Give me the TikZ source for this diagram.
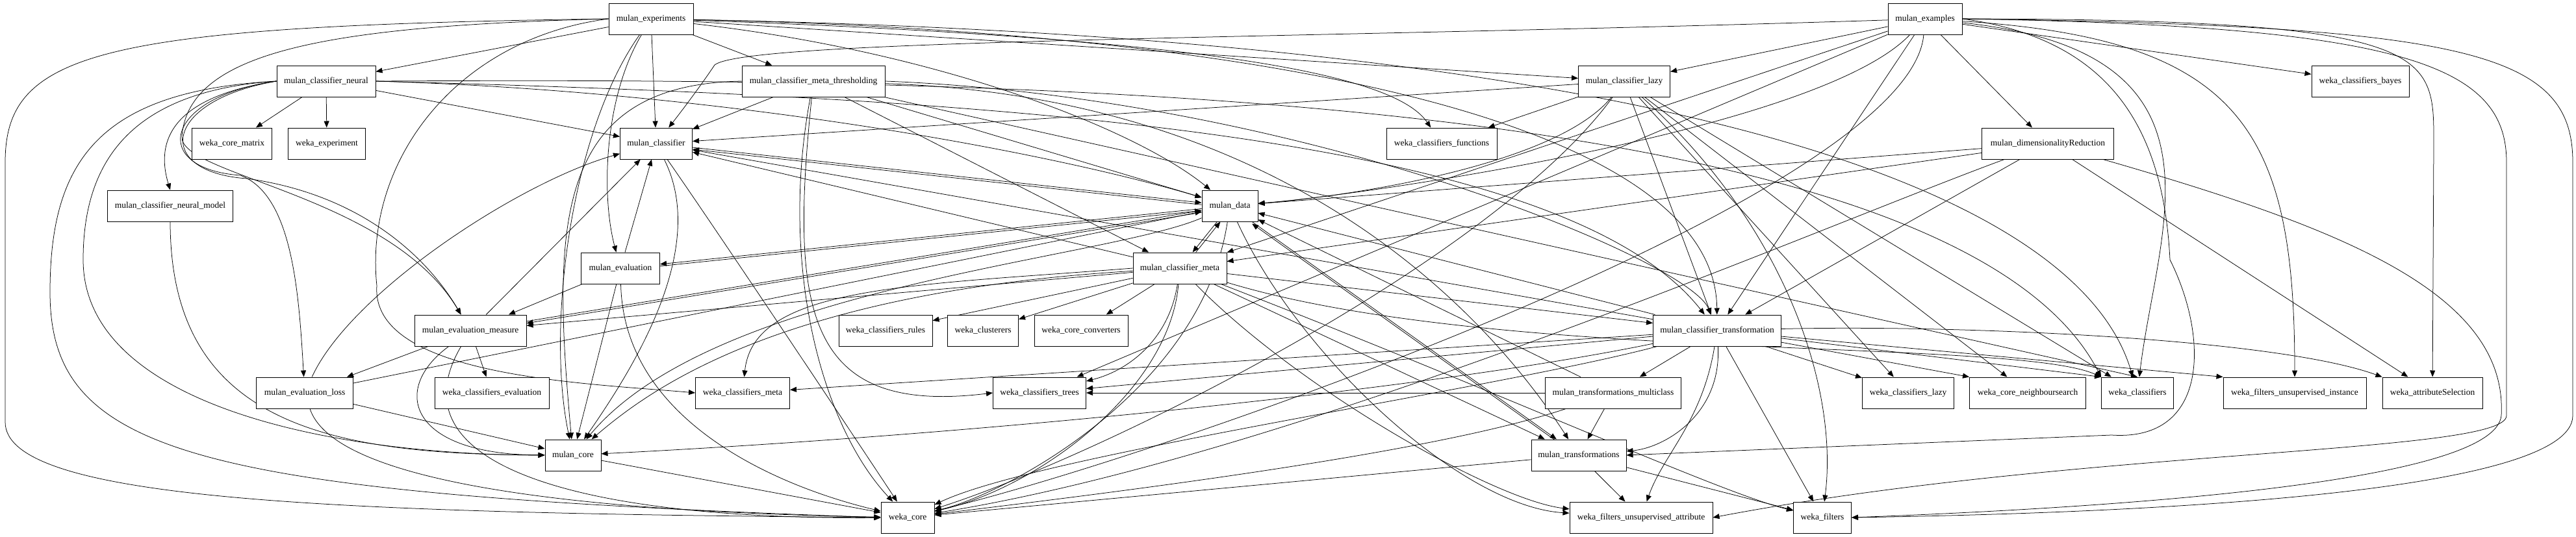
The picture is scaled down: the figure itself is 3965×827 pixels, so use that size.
\documentclass[tikz,border=0pt]{standalone}
\usepackage{fontspec}
\setmainfont{Liberation Serif}
\usetikzlibrary{arrows.meta,backgrounds}

\tikzset{
  pkg/.style={draw, line width=1pt, fill=white, minimum height=48pt, inner sep=0pt, font=\fontsize{13.5}{15}\selectfont},
  dep/.style={-{Triangle[length=10pt,width=8pt]}, line width=0.75pt},
  twin/.style={transform canvas={yshift=-3pt}},
}

\begin{document}
\begin{tikzpicture}[x=1pt,y=-1pt]
\useasboundingbox (0,0) rectangle (3965,827);

% top row
\node[pkg, minimum width=130pt] (exper) at (1002,29) {mulan\_experiments};
\node[pkg, minimum width=114pt] (exampl) at (2963,29) {mulan\_examples};

% row 2
\node[pkg, minimum width=152pt] (neural) at (502,125) {mulan\_classifier\_neural};
\node[pkg, minimum width=220pt] (thresh) at (1252,125) {mulan\_classifier\_meta\_thresholding};
\node[pkg, minimum width=141pt] (lazy) at (2500,125) {mulan\_classifier\_lazy};
\node[pkg, minimum width=150pt] (bayes) at (3633,125) {weka\_classifiers\_bayes};

% row 3
\node[pkg, minimum width=123pt] (matrix) at (357,221) {weka\_core\_matrix};
\node[pkg, minimum width=119pt] (wexp) at (503,221) {weka\_experiment};
\node[pkg, minimum width=111pt] (classif) at (1010,221) {mulan\_classifier};
\node[pkg, minimum width=170pt] (functions) at (2219,221) {weka\_classifiers\_functions};
\node[pkg, minimum width=203pt] (dimred) at (3152,221) {mulan\_dimensionalityReduction};

% row 4
\node[pkg, minimum width=193pt] (neuralmodel) at (262,317) {mulan\_classifier\_neural\_model};
\node[pkg, minimum width=86pt] (data) at (1893,317) {mulan\_data};

% row 5
\node[pkg, minimum width=121pt] (evaluation) at (955,413) {mulan\_evaluation};
\node[pkg, minimum width=144pt] (meta) at (1816,413) {mulan\_classifier\_meta};

% row 6
\node[pkg, minimum width=172pt] (measure) at (724,509) {mulan\_evaluation\_measure};
\node[pkg, minimum width=144pt] (rules) at (1363,509) {weka\_classifiers\_rules};
\node[pkg, minimum width=109pt] (clusterers) at (1513,509) {weka\_clusterers};
\node[pkg, minimum width=144pt] (converters) at (1664,509) {weka\_core\_converters};
\node[pkg, minimum width=197pt] (transformation) at (2643,509) {mulan\_classifier\_transformation};

% row 7
\node[pkg, minimum width=149pt] (loss) at (469,605) {mulan\_evaluation\_loss};
\node[pkg, minimum width=176pt] (wevaluation) at (757,605) {weka\_classifiers\_evaluation};
\node[pkg, minimum width=145pt] (wmeta) at (1143,605) {weka\_classifiers\_meta};
\node[pkg, minimum width=143pt] (trees) at (1600,605) {weka\_classifiers\_trees};
\node[pkg, minimum width=209pt] (multiclass) at (2483,605) {mulan\_transformations\_multiclass};
\node[pkg, minimum width=141pt] (wlazy) at (2937,605) {weka\_classifiers\_lazy};
\node[pkg, minimum width=179pt] (neighbour) at (3121,605) {weka\_core\_neighboursearch};
\node[pkg, minimum width=111pt] (wclassifiers) at (3290,605) {weka\_classifiers};
\node[pkg, minimum width=220pt] (uinstance) at (3532,605) {weka\_filters\_unsupervised\_instance};
\node[pkg, minimum width=154pt] (attrsel) at (3744,605) {weka\_attributeSelection};

% row 8
\node[pkg, minimum width=86pt] (core) at (882,701) {mulan\_core};
\node[pkg, minimum width=146pt] (transformations) at (2430,701) {mulan\_transformations};

% bottom row
\node[pkg, minimum width=82pt] (wcore) at (1397,797) {weka\_core};
\node[pkg, minimum width=220pt] (uattribute) at (2526,797) {weka\_filters\_unsupervised\_attribute};
\node[pkg, minimum width=89pt] (filters) at (2805,797) {weka\_filters};

\begin{scope}[on background layer]
% mulan_experiments
\draw[dep] (exper) -- (neural);
\draw[dep] (exper) -- (thresh);
\draw[dep] (exper) -- (classif);
\draw[dep] (exper) .. controls (930,150) and (925,300) .. (evaluation);
\draw[dep] (exper) .. controls (1450,80) and (1750,200) .. (data);
\draw[dep] (exper) -- (lazy);
\draw[dep] (exper) .. controls (1900,60) and (2150,120) .. (functions);
\draw[dep] (exper.west) .. controls (500,40) and (290,80) .. (280,210) .. controls (275,270) and (600,300) .. (measure);
\draw[dep] (exper.west) .. controls (700,60) and (560,250) .. (580,440) .. controls (570,580) and (900,590) .. (wmeta.west);
\draw[dep] (exper) .. controls (880,200) and (840,500) .. (core);
\draw[dep] (exper.west) .. controls (150,40) and (8,80) .. (8,250) -- (8,650) .. controls (8,770) and (500,790) .. (wcore.west);
\draw[dep] (exper) .. controls (2000,50) and (2640,200) .. (transformation);
\draw[dep] (exper) .. controls (2600,60) and (3200,300) .. (wclassifiers);

% mulan_examples
\draw[dep] (exampl) -- (lazy);
\draw[dep] (exampl) -- (bayes);
\draw[dep] (exampl) -- (dimred);
\draw[dep] (exampl) .. controls (2000,60) and (1150,60) .. (1100,100) .. controls (1080,130) and (1050,170) .. (classif);
\draw[dep] (exampl) .. controls (2800,200) and (2100,300) .. (data);
\draw[dep] (exampl) -- (meta);
\draw[dep] (exampl) -- (transformation);
\draw[dep] (exampl) .. controls (2940,300) and (1800,700) .. (wcore);
\draw[dep] (exampl) .. controls (3450,80) and (3320,350) .. (wclassifiers);
\draw[dep] (exampl) .. controls (3450,60) and (3532,200) .. (uinstance);
\draw[dep] (exampl.east) .. controls (3750,30) and (3746,80) .. (3746,220) -- (attrsel);
\draw[dep] (exampl.east) .. controls (3800,40) and (3960,80) .. (3960,250) -- (3960,640) .. controls (3960,760) and (3300,790) .. (filters.east);
\draw[dep] (exampl.east) .. controls (3700,40) and (3858,100) .. (3858,250) -- (3858,640) .. controls (3858,700) and (3200,690) .. (uattribute.east);
\draw[dep] (exampl.east) .. controls (3250,60) and (3330,200) .. (3340,400) .. controls (3400,520) and (3400,680) .. (3250,670) -- (transformations.east);
\draw[dep] (exampl) -- (trees);

% mulan_classifier_neural
\draw[dep] (neural) -- (matrix);
\draw[dep] (neural) -- (wexp);
\draw[dep] (neural.west) .. controls (260,150) and (240,220) .. (neuralmodel.north);
\draw[dep] (neural) -- (classif);
\draw[dep] (neural.east) .. controls (1100,140) and (1600,230) .. (data);
\draw[dep] (neural.west) .. controls (200,140) and (128,250) .. (128,400) .. controls (128,620) and (500,700) .. (core.west);
\draw[dep] (neural.west) .. controls (150,140) and (77,250) .. (77,450) .. controls (77,700) and (300,760) .. (wcore.west);
\draw[dep] (neural.west) .. controls (250,150) and (230,260) .. (370,270) .. controls (450,300) and (460,450) .. (loss);
\draw[dep] (neural.west) .. controls (250,155) and (235,265) .. (380,275) .. controls (560,300) and (660,400) .. (measure);
\draw[dep] (neural.east) .. controls (1500,150) and (2400,200) .. (transformation);
\draw[dep] (neural.east) .. controls (1500,120) and (3000,130) .. (wclassifiers.north west);

% mulan_classifier_neural_model
\draw[dep] (neuralmodel) .. controls (262,650) and (500,700) .. (core);

% mulan_classifier_meta_thresholding
\draw[dep] (thresh) -- (classif);
\draw[dep] (thresh) -- (data);
\draw[dep] (thresh) -- (meta);
\draw[dep] (thresh) .. controls (1200,400) and (1260,650) .. (wcore);
\draw[dep] (thresh.west) .. controls (850,130) and (850,350) .. (core);
\draw[dep] (thresh.east) .. controls (2000,150) and (2600,400) .. (transformation);
\draw[dep] (thresh) -- (wclassifiers.north);
\draw[dep] (thresh) .. controls (1215,480) and (1240,640) .. (trees.west);
\draw[dep] (thresh) .. controls (2000,150) and (2300,500) .. (transformations);

% mulan_classifier_lazy
\draw[dep] (lazy) -- (functions);
\draw[dep] (lazy) -- (classif);
\draw[dep] (lazy) .. controls (2400,250) and (2100,300) .. (data);
\draw[dep] (lazy) .. controls (2300,400) and (1700,700) .. (wcore);
\draw[dep] (lazy) -- (wlazy);
\draw[dep] (lazy) -- (neighbour);
\draw[dep] (lazy) -- (wclassifiers);
\draw[dep] (lazy) -- (transformation);
\draw[dep] (lazy) .. controls (2750,350) and (2830,600) .. (filters);

% mulan_classifier
\draw[dep] (classif) -- (data);
\draw[dep] (classif) .. controls (1090,380) and (980,560) .. (core);
\draw[dep] (classif) .. controls (1100,350) and (1300,650) .. (wcore);

% mulan_data
\draw[dep, twin] (data) -- (classif);
\draw[dep] (data) -- (meta);
\draw[dep] (data) .. controls (1700,400) and (1100,440) .. (core);
\draw[dep] (data) .. controls (1850,600) and (1550,760) .. (wcore);
\draw[dep] (data) -- (transformations);
\draw[dep] (data) .. controls (2000,550) and (2250,780) .. (uattribute);
\draw[dep, twin] (data) -- (measure);
\draw[dep] (data) -- (evaluation);

% mulan_evaluation
\draw[dep] (evaluation) -- (classif);
\draw[dep, twin] (evaluation) -- (data);
\draw[dep] (evaluation) -- (measure);
\draw[dep] (evaluation) -- (core);
\draw[dep] (evaluation) .. controls (960,650) and (1200,750) .. (wcore);

% mulan_classifier_meta
\draw[dep, transform canvas={xshift=5pt}] (meta) -- (data);
\draw[dep] (meta) -- (classif);
\draw[dep] (meta) -- (rules);
\draw[dep] (meta) -- (clusterers);
\draw[dep] (meta) -- (converters);
\draw[dep] (meta.west) .. controls (1400,440) and (1160,440) .. (wmeta);
\draw[dep] (meta) .. controls (1800,520) and (1740,570) .. (trees);
\draw[dep] (meta) .. controls (1800,600) and (1600,750) .. (wcore);
\draw[dep] (meta) .. controls (1200,450) and (1000,600) .. (core);
\draw[dep] (meta) -- (transformation);
\draw[dep] (meta) -- (transformations);
\draw[dep] (meta) .. controls (2000,600) and (2300,770) .. (uattribute);
\draw[dep] (meta) .. controls (2300,600) and (2650,760) .. (filters);
\draw[dep] (meta) .. controls (2300,560) and (3100,520) .. (wclassifiers.north west);
\draw[dep] (meta) -- (measure);

% mulan_evaluation_measure
\draw[dep] (measure) -- (classif);
\draw[dep] (measure) -- (data);
\draw[dep] (measure) -- (loss);
\draw[dep] (measure) -- (wevaluation);
\draw[dep] (measure) .. controls (600,600) and (630,700) .. (core);
\draw[dep] (measure) .. controls (600,720) and (900,800) .. (wcore);

% mulan_evaluation_loss
\draw[dep] (loss) .. controls (540,450) and (800,280) .. (classif);
\draw[dep] (loss) -- (data);
\draw[dep] (loss) -- (core);
\draw[dep] (loss) .. controls (520,760) and (1000,790) .. (wcore);

% mulan_classifier_transformation
\draw[dep] (transformation) -- (data);
\draw[dep] (transformation) -- (classif);
\draw[dep] (transformation) -- (multiclass);
\draw[dep] (transformation) .. controls (2650,640) and (2560,690) .. (transformations);
\draw[dep] (transformation) -- (wmeta);
\draw[dep] (transformation) -- (trees);
\draw[dep] (transformation) -- (wlazy);
\draw[dep] (transformation) -- (neighbour.north west);
\draw[dep] (transformation) -- (wclassifiers.north west);
\draw[dep] (transformation) -- (uinstance.north west);
\draw[dep] (transformation) .. controls (3000,500) and (3500,520) .. (attrsel.north west);
\draw[dep] (transformation) .. controls (2620,650) and (2560,700) .. (uattribute);
\draw[dep] (transformation) -- (filters);
\draw[dep] (transformation) .. controls (2300,600) and (1600,700) .. (wcore);
\draw[dep] (transformation) .. controls (2200,600) and (1500,670) .. (core);

% mulan_transformations_multiclass
\draw[dep] (multiclass) -- (transformations);
\draw[dep] (multiclass) -- (data);
\draw[dep] (multiclass) .. controls (2200,700) and (1700,760) .. (wcore);
\draw[dep] (multiclass) -- (trees);

% mulan_transformations
\draw[dep, twin] (transformations) -- (data);
\draw[dep] (transformations) -- (wcore);
\draw[dep] (transformations) -- (uattribute);
\draw[dep] (transformations) -- (filters);

% mulan_dimensionalityReduction
\draw[dep] (dimred) -- (data);
\draw[dep] (dimred) -- (meta);
\draw[dep] (dimred) .. controls (2800,350) and (2000,700) .. (wcore);
\draw[dep] (dimred) -- (attrsel);
\draw[dep] (dimred) .. controls (3600,350) and (3860,450) .. (3850,640) .. controls (3840,740) and (3300,780) .. (filters.east);
\draw[dep] (dimred) -- (transformation);

% mulan_core
\draw[dep] (core) -- (wcore);
\end{scope}
\end{tikzpicture}
\end{document}
